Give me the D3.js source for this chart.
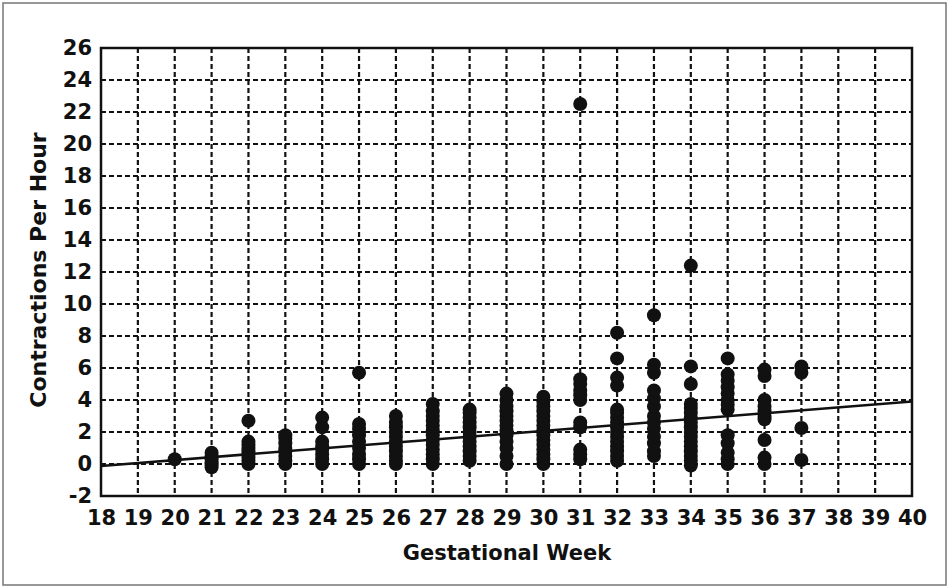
<!DOCTYPE html>
<html>
<head>
<meta charset="utf-8">
<script src="https://cdn.jsdelivr.net/npm/d3@7"></script>
<style>
  html, body { margin: 0; padding: 0; background: #fff; }
  svg { display: block; }
  text { font-family: "DejaVu Sans", sans-serif; font-weight: bold; fill: #111; }
</style>
</head>
<body>
<script>
// ---- data ----
const weeks = [20, 21, 22, 23, 24, 25, 26, 27, 28, 29, 30, 31, 32, 33, 34, 35, 36, 37];
const contractions = [
  [0.3],
  [-0.2, 0, 0.1, 0.3, 0.5, 0.7],
  [0, 0.2, 0.4, 0.6, 0.8, 1.0, 1.2, 1.4, 2.7],
  [0, 0.2, 0.5, 0.8, 1.0, 1.3, 1.6, 1.8],
  [0, 0.3, 0.6, 0.9, 1.1, 1.4, 2.3, 2.9],
  [0, 0.3, 0.6, 1.0, 1.4, 1.8, 2.2, 2.5, 5.7],
  [0, 0.2, 0.5, 0.8, 1.1, 1.4, 1.7, 2.0, 2.3, 2.6, 3.0],
  [0, 0.3, 0.6, 0.9, 1.2, 1.5, 1.8, 2.1, 2.4, 2.7, 3.0, 3.3, 3.75],
  [0.2, 0.5, 0.8, 1.1, 1.4, 1.7, 2.0, 2.3, 2.6, 2.9, 3.2, 3.4],
  [0, 0.5, 1.0, 1.4, 1.8, 2.1, 2.4, 2.7, 3.0, 3.3, 3.6, 4.0, 4.4],
  [0, 0.3, 0.6, 0.9, 1.2, 1.5, 1.8, 2.1, 2.4, 2.7, 3.0, 3.3, 3.6, 3.9, 4.2],
  [0.3, 0.6, 0.9, 2.3, 2.6, 4.0, 4.3, 4.6, 5.0, 5.3, 22.5],
  [0.2, 0.5, 0.8, 1.1, 1.4, 1.7, 2.0, 2.3, 2.6, 2.9, 3.2, 3.4, 4.9, 5.4, 6.6, 8.2],
  [0.5, 0.8, 1.3, 1.7, 2.2, 2.6, 3.0, 3.6, 4.1, 4.6, 5.7, 6.2, 9.3],
  [-0.1, 0.2, 0.5, 0.8, 1.1, 1.4, 1.7, 2.0, 2.3, 2.6, 2.9, 3.2, 3.5, 3.75, 5.0, 6.1, 12.4],
  [0, 0.3, 0.7, 1.3, 1.8, 3.4, 3.7, 4.0, 4.4, 4.8, 5.2, 5.6, 6.6],
  [0, 0.4, 1.5, 2.8, 3.0, 3.3, 3.6, 4.0, 5.5, 5.9],
  [0.25, 2.25, 5.7, 6.1]
];
const xTicks = d3.range(18, 41, 1);
const yTicks = d3.range(-2, 27, 2);
const trendX = [18, 40];
const trendY = [-0.12, 3.9];
const xTitle = "Gestational Week";
const yTitle = "Contractions Per Hour";

// ---- drawing ----
const W = 949, H = 588;
const svg = d3.select("body").append("svg").attr("width", W).attr("height", H);

svg.append("rect").attr("x", 3).attr("y", 3).attr("width", W - 6).attr("height", H - 6)
  .attr("fill", "none").attr("stroke", "#777").attr("stroke-width", 1.5);

const x = d3.scaleLinear().domain([18, 40]).range([101, 912]);
const y = d3.scaleLinear().domain([-2, 26]).range([496, 48]);

const grid = svg.append("g").attr("stroke", "#111").attr("stroke-width", 2.2).attr("stroke-dasharray", "5,3");
grid.selectAll("line.v").data(xTicks.filter(d => d > 18 && d < 40)).join("line")
  .attr("x1", d => x(d)).attr("x2", d => x(d)).attr("y1", y(26)).attr("y2", y(-2));
grid.selectAll("line.h").data(yTicks.filter(d => d > -2 && d < 26)).join("line")
  .attr("class", "h")
  .attr("x1", x(18)).attr("x2", x(40)).attr("y1", d => y(d)).attr("y2", d => y(d));

// trend line
svg.append("line")
  .attr("x1", x(trendX[0])).attr("y1", y(trendY[0]))
  .attr("x2", x(trendX[1])).attr("y2", y(trendY[1]))
  .attr("stroke", "#111").attr("stroke-width", 2.5);

// points
const pts = [];
weeks.forEach((w, i) => contractions[i].forEach(v => pts.push({w, v})));
svg.append("g").selectAll("circle").data(pts).join("circle")
  .attr("cx", d => x(d.w)).attr("cy", d => y(d.v)).attr("r", 7).attr("fill", "#111");

// frame
svg.append("rect").attr("x", x(18)).attr("y", y(26))
  .attr("width", x(40) - x(18)).attr("height", y(-2) - y(26))
  .attr("fill", "none").attr("stroke", "#111").attr("stroke-width", 2.5);

// axes (tick labels only)
const fmt = d => String(d);
const xAxis = d3.axisBottom(x).tickValues(xTicks).tickSize(0).tickPadding(14).tickFormat(fmt);
const gx = svg.append("g").attr("transform", `translate(0,${y(-2)})`).call(xAxis);
gx.select(".domain").remove();
gx.selectAll("text").style("font-size", "21px").style("font-family", "DejaVu Sans").style("font-weight", "bold").attr("fill", "#111");

const yAxis = d3.axisLeft(y).tickValues(yTicks).tickSize(0).tickPadding(9).tickFormat(fmt);
const gy = svg.append("g").attr("transform", `translate(${x(18)},0)`).call(yAxis);
gy.select(".domain").remove();
gy.selectAll("text").style("font-size", "21px").style("font-family", "DejaVu Sans").style("font-weight", "bold").attr("fill", "#111");

svg.append("text").attr("x", 507).attr("y", 560).attr("text-anchor", "middle")
  .style("font-size", "21px").text(xTitle);
svg.append("text").attr("transform", "translate(46,270) rotate(-90)").attr("text-anchor", "middle")
  .style("font-size", "22px").text(yTitle);
</script>
</body>
</html>
